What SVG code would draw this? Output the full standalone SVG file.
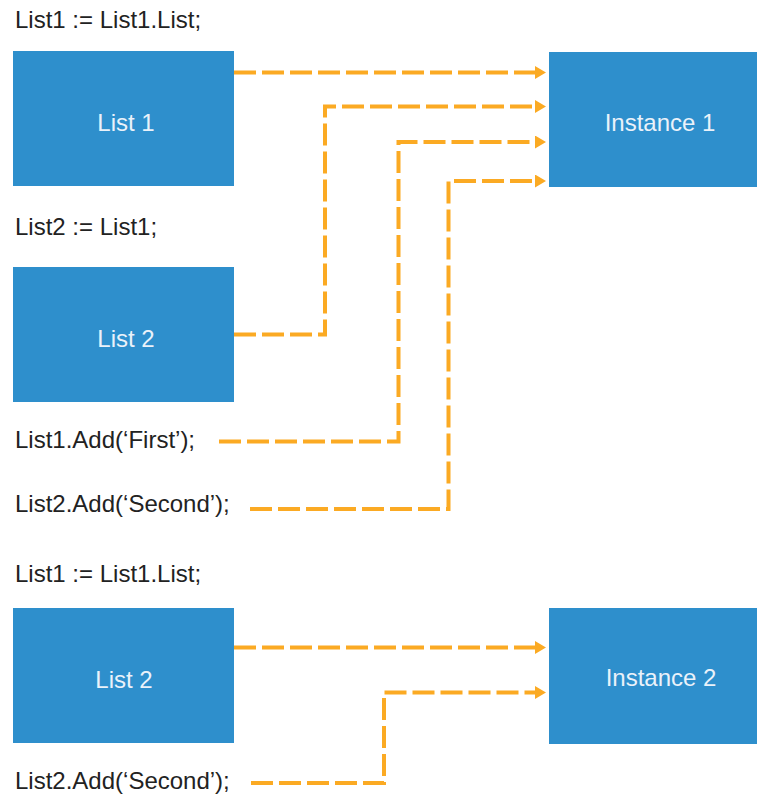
<svg xmlns="http://www.w3.org/2000/svg" width="757" height="794" viewBox="0 0 757 794">
  <style>
    .code { font-family: "Liberation Sans", Arial, sans-serif; font-size: 24px; fill: #222222; }
    .box { fill: #2E8FCC; }
    .label { font-family: "Liberation Sans", Arial, sans-serif; font-size: 24px; fill: #EAF2FA; text-anchor: middle; }
    .conn { fill: none; stroke: #FBAA23; stroke-width: 4; stroke-dasharray: 22 6; marker-end: url(#arrow); }
  </style>
  <defs>
    <marker id="arrow" viewBox="0 0 11 13" refX="0" refY="6.5" markerWidth="11" markerHeight="13" markerUnits="userSpaceOnUse" orient="auto">
      <path d="M0,0 L11,6.5 L0,13 Z" fill="#FBAA23"/>
    </marker>
  </defs>
  <rect width="757" height="794" fill="#FFFFFF"/>

  <g id="code-texts">
    <text class="code" x="15" y="28">List1 := List1.List;</text>
    <text class="code" x="15" y="235">List2 := List1;</text>
    <text class="code" x="15" y="448">List1.Add(‘First’);</text>
    <text class="code" x="15" y="512">List2.Add(‘Second’);</text>
    <text class="code" x="15" y="582">List1 := List1.List;</text>
    <text class="code" x="15" y="789">List2.Add(‘Second’);</text>
  </g>

  <g id="list1">
    <rect class="box" x="13" y="51" width="221" height="135"/>
    <text class="label" x="126" y="131">List 1</text>
  </g>
  <g id="list2">
    <rect class="box" x="13" y="267" width="221" height="135"/>
    <text class="label" x="126" y="347">List 2</text>
  </g>
  <g id="instance1">
    <rect class="box" x="549" y="52" width="208" height="135"/>
    <text class="label" x="660" y="131">Instance 1</text>
  </g>
  <g id="list2b">
    <rect class="box" x="13" y="608" width="221" height="135"/>
    <text class="label" x="124" y="688">List 2</text>
  </g>
  <g id="instance2">
    <rect class="box" x="549" y="608" width="208" height="136"/>
    <text class="label" x="661" y="686">Instance 2</text>
  </g>

  <g id="connectors">
    <path class="conn" d="M234,72.5 H535"/>
    <path class="conn" d="M234,334.5 H325 V106.5 H535"/>
    <path class="conn" d="M219,441.5 H398.5 V142 H535"/>
    <path class="conn" d="M250,509 H448.5 V181 H535"/>
    <path class="conn" d="M234,647.5 H535"/>
    <path class="conn" d="M251,783 H384 V692.5 H535"/>
  </g>
</svg>
